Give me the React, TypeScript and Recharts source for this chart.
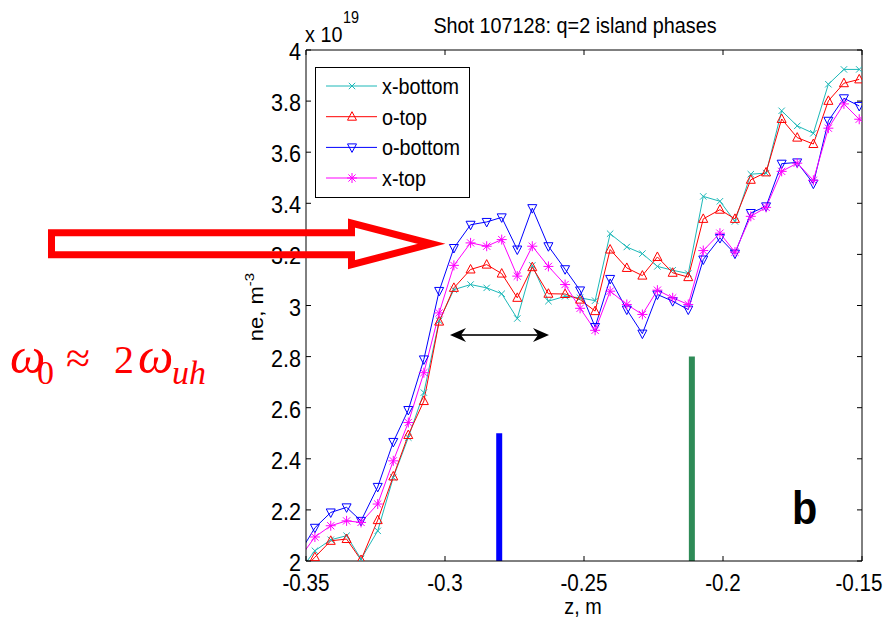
import React from 'react';
import { LineChart, Line, XAxis, YAxis, ReferenceLine, Legend } from 'recharts';

// ---------- data ----------
const zPositions = [
  -0.3524, -0.3468, -0.3411, -0.3354, -0.3302, -0.3242, -0.3186, -0.3132, -0.3076, -0.3021,
  -0.2968, -0.2908, -0.285, -0.2796, -0.274, -0.2686, -0.2628, -0.2568, -0.2514, -0.246,
  -0.2406, -0.2346, -0.229, -0.2236, -0.2181, -0.2125, -0.2071, -0.2011, -0.1957, -0.19,
  -0.1845, -0.1789, -0.1733, -0.1675, -0.1621, -0.1565, -0.151,
];
const xBottom = [
  1.96, 2.04, 2.083, 2.099, 2.008, 2.118, 2.327, 2.483, 2.659, 2.94,
  3.062, 3.082, 3.069, 3.046, 2.949, 3.157, 3.017, 3.036, 3.03, 3.019,
  3.281, 3.229, 3.203, 3.153, 3.138, 3.125, 3.427, 3.408, 3.329, 3.514,
  3.518, 3.762, 3.703, 3.674, 3.866, 3.924, 3.924,
];
const oTop = [
  1.95, 2.015, 2.079, 2.086, 2.004, 2.16, 2.331, 2.493, 2.626, 2.937,
  3.069, 3.141, 3.16, 3.125, 3.03, 3.15, 3.046, 3.045, 3.023, 2.978,
  3.219, 3.147, 3.117, 3.19, 3.128, 3.111, 3.339, 3.375, 3.339, 3.492,
  3.521, 3.73, 3.657, 3.632, 3.801, 3.87, 3.885,
];
const oBottom = [
  2.03, 2.13, 2.19, 2.21, 2.157, 2.29, 2.466, 2.591, 2.789, 3.057,
  3.225, 3.316, 3.327, 3.345, 3.219, 3.381, 3.232, 3.142, 3.059, 2.916,
  3.104, 2.984, 2.89, 3.043, 3.017, 2.984, 3.18, 3.264, 3.203, 3.362,
  3.388, 3.555, 3.56, 3.477, 3.723, 3.811, 3.781,
];
const xTop = [
  2.01, 2.094, 2.138, 2.157, 2.151, 2.223, 2.392, 2.542, 2.737, 2.971,
  3.157, 3.245, 3.232, 3.258, 3.115, 3.232, 3.153, 3.082, 2.989, 2.903,
  3.056, 3.004, 2.965, 3.06, 3.03, 3.004, 3.215, 3.283, 3.209, 3.349,
  3.384, 3.525, 3.557, 3.49, 3.694, 3.789, 3.729,
];

const seriesKeys = ['xb', 'ot', 'ob', 'xt'];
const seriesNames = ['x-bottom', 'o-top', 'o-bottom', 'x-top'];
const seriesColors = ['#1cb8b8', '#ff0000', '#0000ff', '#ff00ff'];
const seriesMarkers = ['x', 'up', 'down', 'star'];

const xTicks = [-0.35, -0.3, -0.25, -0.2, -0.15];
const xTickLabels = ['-0.35', '-0.3', '-0.25', '-0.2', '-0.15'];
const yTicks = [2, 2.2, 2.4, 2.6, 2.8, 3, 3.2, 3.4, 3.6, 3.8, 4];
const yTickLabels = ['2', '2.2', '2.4', '2.6', '2.8', '3', '3.2', '3.4', '3.6', '3.8', '4'];

const barPositions = [-0.2805, -0.2112];
const barTops = [2.5, 2.8];
const barColors = ['#0000ff', '#2e8b57'];

const data = zPositions.map((z, i) => ({
  z,
  xb: xBottom[i],
  ot: oTop[i],
  ob: oBottom[i],
  xt: xTop[i],
}));

// ---------- styling helpers ----------
const FONT = "'Liberation Sans', Arial, Helvetica, sans-serif";
const SERIF = "'Liberation Serif', 'Times New Roman', serif";
const SX = 0.9;

function MarkerGlyph({ kind, cx, cy, color }: { kind: string; cx: number; cy: number; color: string }) {
  const common = { stroke: color, strokeWidth: 1, fill: 'none' };
  if (kind === 'x') {
    const s = 3.2;
    return (
      <g {...common}>
        <line x1={cx - s} y1={cy - s} x2={cx + s} y2={cy + s} />
        <line x1={cx - s} y1={cy + s} x2={cx + s} y2={cy - s} />
      </g>
    );
  }
  if (kind === 'up') {
    return <polygon {...common} points={`${cx},${cy - 5} ${cx - 4.5},${cy + 3.5} ${cx + 4.5},${cy + 3.5}`} />;
  }
  if (kind === 'down') {
    return <polygon {...common} points={`${cx},${cy + 5} ${cx - 4.5},${cy - 3.5} ${cx + 4.5},${cy - 3.5}`} />;
  }
  const s = 5;
  const d = 3.6;
  return (
    <g {...common}>
      <line x1={cx - s} y1={cy} x2={cx + s} y2={cy} />
      <line x1={cx} y1={cy - s} x2={cx} y2={cy + s} />
      <line x1={cx - d} y1={cy - d} x2={cx + d} y2={cy + d} />
      <line x1={cx - d} y1={cy + d} x2={cx + d} y2={cy - d} />
    </g>
  );
}

const makeDot = (kind: string, color: string) => (props: any) => {
  const { cx, cy, index } = props;
  const key = `dot-${kind}-${index}`;
  if (cx == null || cy == null || Number.isNaN(cx) || Number.isNaN(cy)) return <g key={key} />;
  return (
    <g key={key}>
      <MarkerGlyph kind={kind} cx={cx} cy={cy} color={color} />
    </g>
  );
};

const labelFor = (ticks: number[], labels: string[], v: number) => {
  const i = ticks.findIndex((t) => Math.abs(t - v) < 1e-9);
  return i >= 0 ? labels[i] : String(v);
};

const BottomTick = (props: any) => {
  const { x, y, payload } = props;
  // keep the rightmost label inside the picture, as in the reference
  const lx = Math.min(x, 859);
  return (
    <g>
      <line x1={x} y1={y} x2={x} y2={y - 5} stroke="#000" />
      <text
        transform={`translate(${lx} ${y + 30}) scale(0.86 1)`}
        textAnchor="middle"
        fontSize={24}
        fontFamily={FONT}
        fill="#000"
      >
        {labelFor(xTicks, xTickLabels, payload.value)}
      </text>
    </g>
  );
};

const TopTick = (props: any) => {
  const { x, y } = props;
  return <line x1={x} y1={y} x2={x} y2={y + 5} stroke="#000" />;
};

const LeftTick = (props: any) => {
  const { x, y, payload } = props;
  return (
    <g>
      <line x1={x} y1={y} x2={x + 5} y2={y} stroke="#000" />
      <text
        transform={`translate(${x - 5} ${y + 10}) scale(${SX} 1)`}
        textAnchor="end"
        fontSize={24}
        fontFamily={FONT}
        fill="#000"
      >
        {labelFor(yTicks, yTickLabels, payload.value)}
      </text>
    </g>
  );
};

const RightTick = (props: any) => {
  const { x, y } = props;
  return <line x1={x} y1={y} x2={x - 5} y2={y} stroke="#000" />;
};

const LegendBox = () => {
  const rowY = [19, 49.7, 80.4, 111];
  return (
    <svg width={156} height={132} style={{ display: 'block' }}>
      <rect x={0.5} y={0.5} width={154} height={130} fill="#fff" stroke="#000" strokeWidth={1} />
      {seriesNames.map((name, i) => (
        <g key={name}>
          <line x1={11} y1={rowY[i]} x2={62} y2={rowY[i]} stroke={seriesColors[i]} strokeWidth={1} />
          <MarkerGlyph kind={seriesMarkers[i]} cx={37} cy={rowY[i]} color={seriesColors[i]} />
          <text
            transform={`translate(67 ${rowY[i] + 8}) scale(${SX} 1)`}
            fontSize={22}
            fontFamily={FONT}
            fill="#000"
          >
            {name}
          </text>
        </g>
      ))}
    </svg>
  );
};

const STxt = ({ x, y, size, anchor, children, weight }: any) => (
  <text
    transform={`translate(${x} ${y}) scale(${SX} 1)`}
    textAnchor={anchor || 'start'}
    fontSize={size}
    fontFamily={FONT}
    fontWeight={weight || 'normal'}
    fill="#000"
  >
    {children}
  </text>
);

export default function App() {
  return (
    <div
      style={{
        position: 'absolute',
        left: 0,
        top: 0,
        width: 883,
        height: 624,
        background: '#fff',
        fontFamily: FONT,
        overflow: 'hidden',
      }}
    >
      <LineChart width={883} height={624} data={data} margin={{ top: 40, right: 11, bottom: 33, left: 246 }}>
        <XAxis
          dataKey="z"
          type="number"
          domain={[-0.35, -0.15]}
          allowDataOverflow
          ticks={xTicks}
          interval={0}
          tickSize={0}
          tickMargin={0}
          tickLine={false}
          axisLine={{ stroke: '#000', strokeWidth: 1 }}
          tick={BottomTick}
          height={30}
        />
        <XAxis
          xAxisId="top"
          orientation="top"
          dataKey="z"
          type="number"
          domain={[-0.35, -0.15]}
          allowDataOverflow
          ticks={xTicks}
          interval={0}
          tickSize={0}
          tickMargin={0}
          tickLine={false}
          axisLine={{ stroke: '#000', strokeWidth: 1 }}
          tick={TopTick}
          height={10}
        />
        <YAxis
          type="number"
          domain={[2, 4]}
          allowDataOverflow
          ticks={yTicks}
          interval={0}
          tickSize={0}
          tickMargin={0}
          tickLine={false}
          axisLine={{ stroke: '#000', strokeWidth: 1 }}
          tick={LeftTick}
          width={60}
        />
        <YAxis
          yAxisId="right"
          orientation="right"
          type="number"
          domain={[2, 4]}
          allowDataOverflow
          ticks={yTicks}
          interval={0}
          tickSize={0}
          tickMargin={0}
          tickLine={false}
          axisLine={{ stroke: '#000', strokeWidth: 1 }}
          tick={RightTick}
          width={10}
        />
        {barPositions.map((z, i) => (
          <ReferenceLine
            key={`bar-${i}`}
            segment={[
              { x: z, y: 2 },
              { x: z, y: barTops[i] },
            ]}
            stroke={barColors[i]}
            strokeWidth={6}
            ifOverflow="visible"
          />
        ))}
        {seriesKeys.map((k, i) => (
          <Line
            key={k}
            dataKey={k}
            name={seriesNames[i]}
            type="linear"
            stroke={seriesColors[i]}
            strokeWidth={1}
            dot={makeDot(seriesMarkers[i], seriesColors[i])}
            activeDot={false}
            isAnimationActive={false}
          />
        ))}
        <Legend
          layout="vertical"
          align="center"
          verticalAlign="middle"
          wrapperStyle={{ left: 315, top: 67, width: 156, height: 132 }}
          content={() => <LegendBox />}
        />
      </LineChart>
      <svg
        width={883}
        height={624}
        style={{ position: 'absolute', left: 0, top: 0, pointerEvents: 'none' }}
      >
        {/* title */}
        <STxt x={575} y={33} size={22} anchor="middle">
          Shot 107128: q=2 island phases
        </STxt>
        {/* exponent */}
        <STxt x={305} y={42} size={22}>
          x 10
        </STxt>
        <STxt x={343} y={23} size={16}>
          19
        </STxt>
        {/* y label */}
        <text
          transform="translate(263 307) rotate(-90) scale(1 0.9)"
          textAnchor="middle"
          fontSize={22}
          fontFamily={FONT}
          fill="#000"
        >
          ne, m
          <tspan fontSize={15} dy={-10}>
            -3
          </tspan>
        </text>
        {/* x label */}
        <STxt x={583} y={614} size={22} anchor="middle">
          z, m
        </STxt>
        {/* red hollow arrow */}
        <path
          d="M51.5,232.8 L351.5,232.8 L351.5,223 L431.5,243.8 L351.5,264.6 L351.5,254.8 L51.5,254.8 Z"
          fill="none"
          stroke="#ff0000"
          strokeWidth={7}
          strokeLinejoin="miter"
          strokeMiterlimit={10}
        />
        {/* omega relation */}
        <g fill="#ff0000" fontFamily={SERIF}>
          <text x={10} y={373} fontSize={50} fontStyle="italic">ω</text>
          <text x={37} y={384} fontSize={34}>0</text>
          <text x={66} y={373} fontSize={44}>≈</text>
          <text x={114} y={373} fontSize={40}>2</text>
          <text x={138} y={373} fontSize={50} fontStyle="italic">ω</text>
          <text x={172} y={384} fontSize={34} fontStyle="italic">uh</text>
        </g>
        {/* black double arrow */}
        <line x1={460} y1={335} x2={539} y2={335} stroke="#333" strokeWidth={2} />
        <polygon points="450,335 466,328 461,335 466,342" fill="#000" />
        <polygon points="549,335 533,328 538,335 533,342" fill="#000" />
        {/* panel letter */}
        <STxt x={792} y={524} size={46} weight="bold">
          b
        </STxt>
      </svg>
    </div>
  );
}
